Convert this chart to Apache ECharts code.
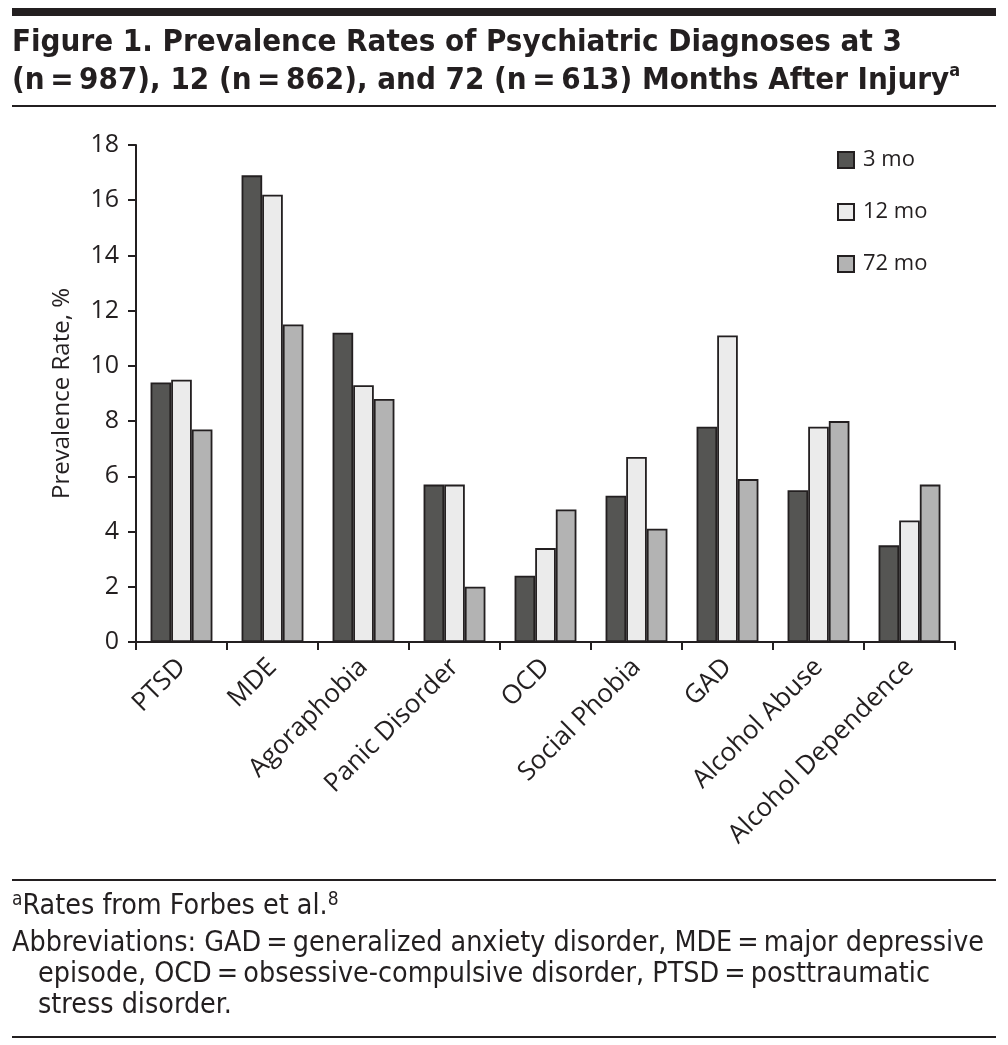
<!DOCTYPE html>
<html>
<head>
<meta charset="utf-8">
<script src="https://cdn.jsdelivr.net/npm/echarts@6/dist/echarts.min.js"></script>
<style>html,body{margin:0;padding:0;background:#fff}#c{width:1008px;height:1045px}</style>
</head>
<body>
<div id="c"></div>
<script>
const categories = ['PTSD','MDE','Agoraphobia','Panic Disorder','OCD','Social Phobia','GAD','Alcohol Abuse','Alcohol Dependence'];
const seriesNames = ['3 mo','12 mo','72 mo'];
const mo3  = [9.4, 16.9, 11.2, 5.7, 2.4, 5.3, 7.8, 5.5, 3.5];
const mo12 = [9.5, 16.2, 9.3, 5.7, 3.4, 6.7, 11.1, 7.8, 4.4];
const mo72 = [7.7, 11.5, 8.8, 2.0, 4.8, 4.1, 5.9, 8.0, 5.7];
const yTicks = [0,2,4,6,8,10,12,14,16,18];

const narrow = '"Liberation Sans Narrow", "DejaVu Sans Condensed", "Liberation Sans", sans-serif';
const body = '"Open Sans", "Noto Sans", sans-serif';
const colors = ['#555553', '#ebebeb', '#b3b3b3'];
const values = [mo3, mo12, mo72];
const ink = '#231f20';

const chart = echarts.init(document.getElementById('c'), null, {renderer: 'canvas'});
chart.setOption({
  animation: false,
  backgroundColor: '#fff',
  title: [
    {
      left: 12, top: 24, padding: 0,
      text: 'Figure 1. Prevalence Rates of Psychiatric Diagnoses at 3\n(n\u2009=\u2009987), 12 (n\u2009=\u2009862), and 72 (n\u2009=\u2009613) Months After Injury{sup|a}',
      textStyle: {
        fontFamily: narrow, fontWeight: 'bold', fontSize: 31, lineHeight: 38, color: ink,
        rich: { sup: { fontFamily: narrow, fontWeight: 'bold', fontSize: 18, verticalAlign: 'top', lineHeight: 30, color: ink } }
      }
    },
    {
      left: 12, top: 891, padding: 0,
      text: '{sup|a}Rates from Forbes et al.{sup|8}',
      textStyle: {
        fontFamily: narrow, fontWeight: 'normal', fontSize: 28.4, lineHeight: 31, color: ink,
        rich: { sup: { fontFamily: narrow, fontWeight: 'normal', fontSize: 19, verticalAlign: 'top', lineHeight: 22, color: ink } }
      }
    },
    {
      left: 12, top: 928, padding: 0,
      text: 'Abbreviations: GAD\u2009=\u2009generalized anxiety disorder, MDE\u2009=\u2009major depressive',
      textStyle: { fontFamily: narrow, fontWeight: 'normal', fontSize: 28.4, lineHeight: 31, color: ink }
    },
    {
      left: 38, top: 959, padding: 0,
      text: 'episode, OCD\u2009=\u2009obsessive-compulsive disorder, PTSD\u2009=\u2009posttraumatic\nstress disorder.',
      textStyle: { fontFamily: narrow, fontWeight: 'normal', fontSize: 28.4, lineHeight: 31, color: ink }
    }
  ],
  graphic: [
    { type: 'rect', shape: { x: 12, y: 8, width: 984, height: 8 }, style: { fill: ink } },
    { type: 'rect', shape: { x: 12, y: 105, width: 984, height: 2 }, style: { fill: ink } },
    { type: 'rect', shape: { x: 12, y: 879, width: 984, height: 2 }, style: { fill: ink } },
    { type: 'rect', shape: { x: 12, y: 1036, width: 984, height: 2 }, style: { fill: ink } }
  ],
  legend: {
    orient: 'vertical', left: 837, top: 149, padding: 0,
    itemWidth: 16, itemHeight: 16, itemGap: 30,
    icon: 'rect',
    data: seriesNames,
    textStyle: { fontFamily: body, fontSize: 22, color: ink, padding: [0, 0, 0, 4] }
  },
  grid: { left: 136, right: 53, top: 145, bottom: 403, containLabel: false },
  xAxis: {
    type: 'category', data: categories,
    axisLine: { lineStyle: { color: ink, width: 2 } },
    axisTick: { show: true, length: 8, lineStyle: { color: ink, width: 2 } },
    axisLabel: { rotate: 45, interval: 0, fontFamily: body, fontSize: 26, color: ink, margin: 21 }
  },
  yAxis: {
    type: 'value', min: 0, max: 18, interval: 2,
    name: 'Prevalence Rate, %', nameLocation: 'middle', nameGap: 62, nameRotate: 90,
    nameTextStyle: { fontFamily: body, fontSize: 24, color: ink },
    axisLine: { show: true, lineStyle: { color: ink, width: 2 } },
    axisTick: { show: true, length: 8, lineStyle: { color: ink, width: 2 } },
    splitLine: { show: false },
    axisLabel: { fontFamily: body, fontSize: 25, color: ink, margin: 17,
      formatter: v => yTicks.includes(v) ? String(v) : '' }
  },
  series: seriesNames.map((n, i) => ({
    name: n, type: 'bar', data: values[i],
    barGap: '0%', barCategoryGap: '32%',
    itemStyle: { color: colors[i], borderColor: ink, borderWidth: 1.8 }
  }))
});
</script>
</body>
</html>
